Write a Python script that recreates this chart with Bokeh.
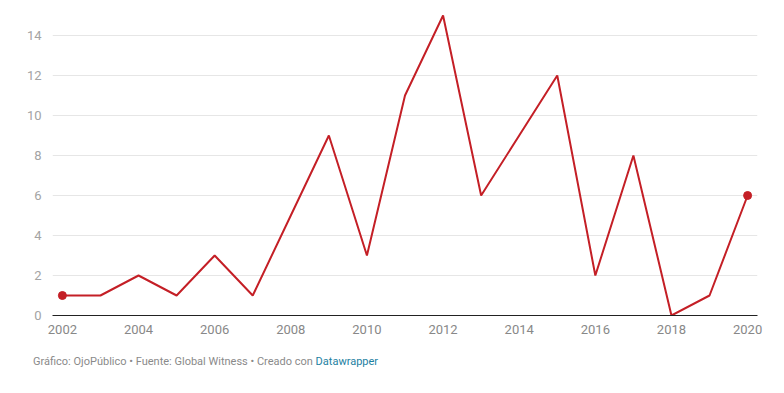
from bokeh.plotting import figure
from bokeh.models import Range1d, FixedTicker, Div
from bokeh.layouts import column
from bokeh.embed import file_html
from bokeh.resources import INLINE

years = list(range(2002, 2021))
values = [1, 1, 2, 1, 3, 1, 5, 9, 3, 11, 15, 6, 9, 12, 2, 8, 0, 1, 6]
x_ticks = [2002, 2004, 2006, 2008, 2010, 2012, 2014, 2016, 2018, 2020]
y_ticks = [0, 2, 4, 6, 8, 10, 12, 14]
footer_main = "Gráfico: OjoPúblico • Fuente: Global Witness • Creado con "
footer_link = "Datawrapper"

RED = "#c41f26"
FONT = "Roboto"

p = figure(width=784, height=340, output_backend="svg", toolbar_location=None,
           x_range=Range1d(2001.74, 2020.26), y_range=Range1d(0, 15.25),
           min_border_left=52, min_border_right=27, min_border_top=10,
           min_border_bottom=25)
p.outline_line_color = None
p.background_fill_color = "white"
p.border_fill_color = "white"

p.xgrid.grid_line_color = None
p.ygrid.grid_line_color = "#e6e6e6"
p.ygrid.grid_line_width = 1

p.xaxis.ticker = FixedTicker(ticks=x_ticks)
p.xaxis.axis_line_color = "#222222"
p.xaxis.axis_line_width = 1
p.xaxis.major_tick_line_color = None
p.xaxis.minor_tick_line_color = None
p.xaxis.major_label_text_font = FONT
p.xaxis.major_label_text_font_size = "13px"
p.xaxis.major_label_text_color = "#888888"
p.xaxis.major_label_standoff = 3

p.yaxis.ticker = FixedTicker(ticks=y_ticks)
p.yaxis.axis_line_color = None
p.yaxis.major_tick_line_color = None
p.yaxis.minor_tick_line_color = None
p.yaxis.major_label_text_font = FONT
p.yaxis.major_label_text_font_size = "13px"
p.yaxis.major_label_text_color = "#a3a3a3"
p.yaxis.major_label_standoff = 5

p.line(years, values, line_color=RED, line_width=2)
p.scatter([years[0], years[-1]], [values[0], values[-1]], size=8,
          fill_color=RED, line_color=RED)

footer = Div(
    text=(f'<span style="color:#8a8a8a">{footer_main}</span>'
          f'<span style="color:#1d81a2">{footer_link}</span>'),
    styles={"font-family": FONT, "font-size": "11px", "line-height": "13px",
            "white-space": "nowrap"},
    width=600, height=20, margin=(15, 0, 0, 33))

layout = column(p, footer, spacing=0)
open("out.html", "w").write(file_html(layout, INLINE))
